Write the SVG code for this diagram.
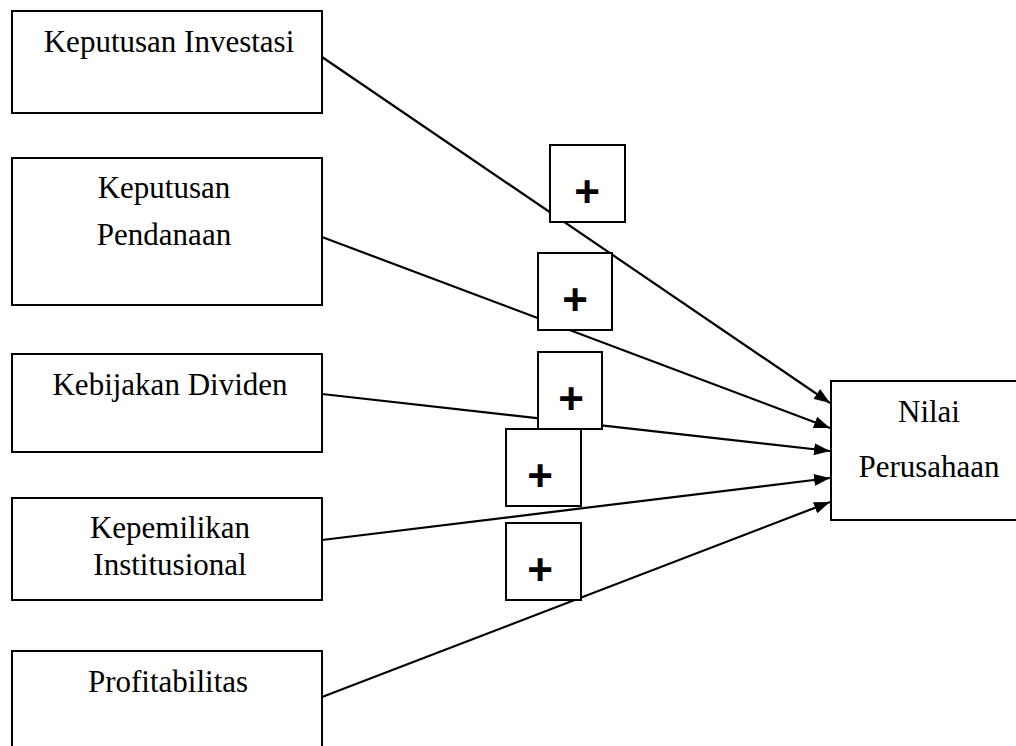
<svg xmlns="http://www.w3.org/2000/svg" width="1016" height="746" viewBox="0 0 1016 746">
<style>
.box{fill:#fff;stroke:#000;stroke-width:2}
.t{font-family:"Liberation Serif","Times New Roman",serif;font-size:31px;fill:#000;text-anchor:middle}
.p{font-family:"Liberation Sans",Arial,sans-serif;font-size:44px;font-weight:bold;fill:#000;text-anchor:middle}
.c{stroke:#000;stroke-width:2.2;fill:none;marker-end:url(#ah)}
</style>
<defs>
<marker id="ah" viewBox="0 0 16 12" refX="16" refY="6" markerWidth="16" markerHeight="12" markerUnits="userSpaceOnUse" orient="auto">
<path d="M0,0 L16,6 L0,12 z" fill="#000"/>
</marker>
</defs>
<rect width="1016" height="746" fill="#fff"/>
<g id="n1"><rect class="box" x="12" y="11" width="310" height="102"/><text class="t" x="169" y="52">Keputusan Investasi</text></g>
<g id="n2"><rect class="box" x="12" y="158" width="310" height="147"/><text class="t" x="164" y="198">Keputusan</text><text class="t" x="164" y="245">Pendanaan</text></g>
<g id="n3"><rect class="box" x="12" y="354" width="310" height="98"/><text class="t" x="170" y="395">Kebijakan Dividen</text></g>
<g id="n4"><rect class="box" x="12" y="498" width="310" height="102"/><text class="t" x="170" y="538">Kepemilikan</text><text class="t" x="170" y="575">Institusional</text></g>
<g id="n5"><rect class="box" x="12" y="651" width="310" height="110"/><text class="t" x="168" y="692">Profitabilitas</text></g>
<g id="target"><rect class="box" x="831" y="381" width="200" height="139"/><text class="t" x="929" y="422">Nilai</text><text class="t" x="929" y="477">Perusahaan</text></g>
<g id="connectors">
<line class="c" x1="322" y1="57" x2="830" y2="403"/>
<line class="c" x1="322" y1="237" x2="830" y2="428"/>
<line class="c" x1="322" y1="394" x2="830" y2="451"/>
<line class="c" x1="322" y1="540" x2="830" y2="478"/>
<line class="c" x1="322" y1="697" x2="830" y2="502"/>
</g>
<g id="plus1"><rect class="box" x="550" y="145" width="75" height="77"/><text class="p" x="587" y="207">+</text></g>
<g id="plus2"><rect class="box" x="538" y="253" width="74" height="77"/><text class="p" x="575" y="315">+</text></g>
<g id="plus3"><rect class="box" x="538" y="352" width="64" height="77"/><text class="p" x="571" y="414">+</text></g>
<g id="plus4"><rect class="box" x="506" y="429" width="75" height="77"/><text class="p" x="540" y="491">+</text></g>
<g id="plus5"><rect class="box" x="506" y="523" width="75" height="77"/><text class="p" x="540" y="585">+</text></g>
</svg>
